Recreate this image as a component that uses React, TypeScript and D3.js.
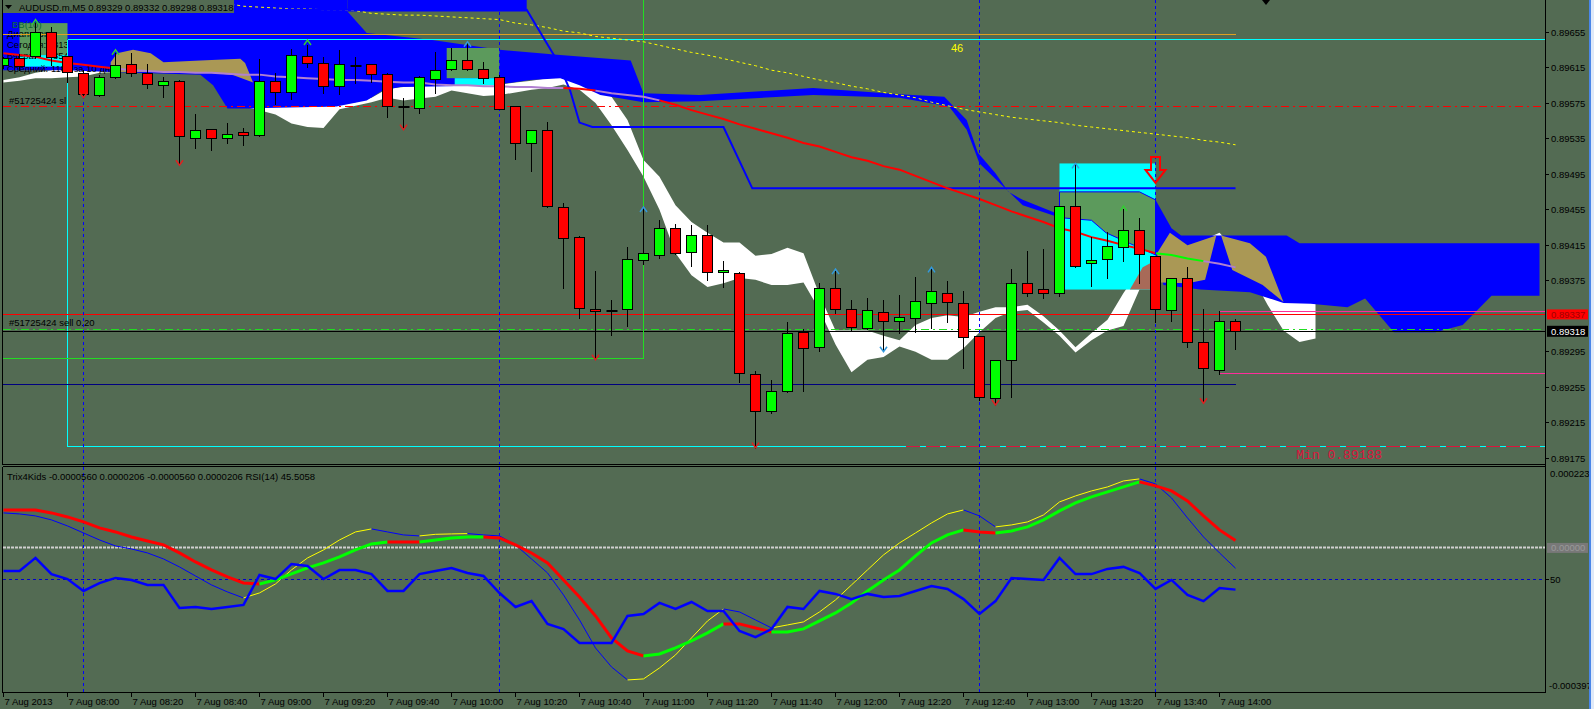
import React from "react";
import * as d3 from "d3";

// ---------------- DATA ----------------
const timeLabels = ["7 Aug 2013","7 Aug 08:00","7 Aug 08:20","7 Aug 08:40","7 Aug 09:00","7 Aug 09:20","7 Aug 09:40","7 Aug 10:00","7 Aug 10:20","7 Aug 10:40","7 Aug 11:00","7 Aug 11:20","7 Aug 11:40","7 Aug 12:00","7 Aug 12:20","7 Aug 12:40","7 Aug 13:00","7 Aug 13:20","7 Aug 13:40","7 Aug 14:00"];
const timeLabelBars = [0,4,8,12,16,20,24,28,32,36,40,44,48,52,56,60,64,68,72,76];
const priceTicks = [0.89655,0.89615,0.89575,0.89535,0.89495,0.89455,0.89415,0.89375,0.89295,0.89255,0.89215,0.89175];

const opens = [0.89617,0.89625,0.89627,0.89655,0.89627,0.89608,0.89584,0.89604,0.89618,0.89608,0.89595,0.89599,0.89535,0.89545,0.89535,0.89542,0.89539,0.89599,0.89587,0.89627,0.89619,0.89594,0.89617,0.89618,0.89607,0.89571,0.89569,0.89602,0.89613,0.89623,0.89613,0.89604,0.89571,0.89530,0.89544,0.89457,0.89424,0.89343,0.89341,0.89343,0.89398,0.89403,0.89434,0.89407,0.89426,0.89384,0.89383,0.89269,0.89228,0.89250,0.89317,0.89300,0.89366,0.89343,0.89321,0.89339,0.89329,0.89332,0.89349,0.89361,0.89349,0.89312,0.89242,0.89285,0.89372,0.89365,0.89361,0.89458,0.89394,0.89399,0.89412,0.89432,0.89402,0.89341,0.89377,0.89305,0.89274,0.89329];
const highs = [0.89627,0.89630,0.89665,0.89661,0.89628,0.89612,0.89607,0.89631,0.89631,0.89619,0.89604,0.89601,0.89563,0.89546,0.89553,0.89547,0.89625,0.89609,0.89636,0.89640,0.89627,0.89635,0.89627,0.89619,0.89609,0.89581,0.89605,0.89632,0.89637,0.89644,0.89621,0.89607,0.89572,0.89545,0.89554,0.89462,0.89425,0.89386,0.89353,0.89413,0.89458,0.89443,0.89439,0.89438,0.89438,0.89397,0.89385,0.89273,0.89263,0.89329,0.89321,0.89372,0.89386,0.89353,0.89355,0.89353,0.89359,0.89379,0.89390,0.89375,0.89363,0.89312,0.89285,0.89388,0.89408,0.89411,0.89458,0.89506,0.89424,0.89430,0.89456,0.89446,0.89402,0.89377,0.89390,0.89343,0.89341,0.89332];
const lows = [0.89614,0.89612,0.89626,0.89618,0.89599,0.89582,0.89583,0.89603,0.89605,0.89592,0.89582,0.89505,0.89524,0.89522,0.89530,0.89528,0.89538,0.89574,0.89580,0.89616,0.89586,0.89585,0.89598,0.89599,0.89559,0.89547,0.89564,0.89586,0.89612,0.89612,0.89598,0.89568,0.89512,0.89498,0.89458,0.89367,0.89333,0.89288,0.89314,0.89324,0.89394,0.89401,0.89405,0.89391,0.89376,0.89368,0.89261,0.89187,0.89226,0.89250,0.89251,0.89296,0.89339,0.89319,0.89321,0.89297,0.89316,0.89317,0.89322,0.89329,0.89277,0.89241,0.89235,0.89244,0.89358,0.89355,0.89358,0.89390,0.89369,0.89378,0.89397,0.89372,0.89329,0.89330,0.89300,0.89237,0.89270,0.89298];
const closes = [0.89625,0.89616,0.89655,0.89626,0.89609,0.89585,0.89604,0.89617,0.89608,0.89596,0.89599,0.89537,0.89544,0.89535,0.89540,0.89538,0.89599,0.89587,0.89628,0.89620,0.89594,0.89618,0.89617,0.89607,0.89571,0.89571,0.89604,0.89612,0.89623,0.89613,0.89603,0.89568,0.89530,0.89544,0.89458,0.89423,0.89344,0.89340,0.89341,0.89399,0.89406,0.89434,0.89406,0.89426,0.89384,0.89386,0.89270,0.89228,0.89250,0.89316,0.89299,0.89366,0.89343,0.89322,0.89341,0.89329,0.89333,0.89351,0.89363,0.89350,0.89311,0.89244,0.89285,0.89372,0.89361,0.89361,0.89458,0.89391,0.89398,0.89414,0.89432,0.89404,0.89342,0.89377,0.89305,0.89276,0.89329,0.89318];

// coloured moving average
const maLine = [0.89631,0.89629,0.89627,0.89623,0.89620,0.89618,0.89616,0.89614,0.89612,0.89611,0.89610,0.89610,0.89609,0.89609,0.89608,0.89607,0.89607,0.89605,0.89604,0.89603,0.89602,0.89601,0.89601,0.89600,0.89599,0.89598,0.89598,0.89596,0.89595,0.89595,0.89594,0.89594,0.89593,0.89593,0.89592,0.89592,0.89591,0.89589,0.89586,0.89584,0.89582,0.89578,0.89573,0.89567,0.89562,0.89557,0.89551,0.89546,0.89541,0.89536,0.89530,0.89526,0.89520,0.89514,0.89510,0.89504,0.89500,0.89493,0.89486,0.89479,0.89473,0.89467,0.89460,0.89453,0.89447,0.89441,0.89434,0.89430,0.89424,0.89420,0.89415,0.89411,0.89406,0.89404,0.89400,0.89397,0.89394,0.89390];
const maRuns = [[0,7,"down"],[7,35,"flat"],[35,37,"down"],[37,41,"flat"],[41,72,"down"],[72,75,"up"],[75,77,"flat"]];

// slow moving average (yellow dotted), starts at bar 12
const slowMaStart = 12;
const slowMa = [0.89691,0.89689,0.89687,0.89684,0.89683,0.89682,0.89681,0.89681,0.89680,0.89680,0.89679,0.89676,0.89675,0.89674,0.89674,0.89673,0.89672,0.89671,0.89670,0.89669,0.89665,0.89663,0.89660,0.89656,0.89654,0.89650,0.89648,0.89646,0.89644,0.89640,0.89636,0.89632,0.89629,0.89625,0.89621,0.89617,0.89612,0.89609,0.89605,0.89601,0.89598,0.89594,0.89591,0.89587,0.89584,0.89581,0.89576,0.89572,0.89568,0.89565,0.89562,0.89559,0.89557,0.89555,0.89553,0.89550,0.89548,0.89546,0.89544,0.89542,0.89540,0.89538,0.89536,0.89533,0.89531,0.89528];

// white band
const bandTop = [0.89601,0.89604,0.89609,0.89612,0.89616,0.89618,0.89620,0.89621,0.89612,0.89611,0.89610,0.89610,0.89609,0.89609,0.89608,0.89571,0.89571,0.89571,0.89571,0.89571,0.89571,0.89573,0.89576,0.89581,0.89591,0.89593,0.89594,0.89595,0.89596,0.89598,0.89595,0.89596,0.89598,0.89600,0.89603,0.89604,0.89601,0.89595,0.89582,0.89556,0.89511,0.89492,0.89460,0.89441,0.89429,0.89418,0.89418,0.89403,0.89405,0.89412,0.89406,0.89359,0.89319,0.89319,0.89319,0.89313,0.89308,0.89325,0.89333,0.89336,0.89334,0.89340,0.89345,0.89345,0.89348,0.89335,0.89319,0.89300,0.89316,0.89331,0.89361,0.89387,0.89404,0.89433,0.89415,0.89421,0.89429,0.89410,0.89393,0.89359,0.89351,0.89350,0.89350];
const bandBottom = [0.89598,0.89600,0.89603,0.89603,0.89604,0.89605,0.89609,0.89610,0.89612,0.89611,0.89610,0.89610,0.89609,0.89609,0.89608,0.89571,0.89567,0.89562,0.89552,0.89548,0.89547,0.89568,0.89572,0.89576,0.89581,0.89578,0.89580,0.89582,0.89589,0.89586,0.89583,0.89584,0.89587,0.89590,0.89592,0.89596,0.89590,0.89575,0.89550,0.89522,0.89492,0.89455,0.89406,0.89381,0.89368,0.89372,0.89378,0.89376,0.89370,0.89370,0.89373,0.89342,0.89303,0.89272,0.89286,0.89289,0.89301,0.89295,0.89286,0.89286,0.89299,0.89317,0.89333,0.89340,0.89342,0.89328,0.89313,0.89294,0.89308,0.89319,0.89324,0.89365,0.89396,0.89421,0.89410,0.89415,0.89421,0.89398,0.89381,0.89348,0.89319,0.89306,0.89310];

// cloud polygons [bar, price]
const cloudBlueLeft = [[-1,0.89700],[21.5,0.89700],[21.5,0.89678],[22.7,0.89654],[26.8,0.89646],[31.0,0.89635],[34.8,0.89629],[39.2,0.89623],[40.0,0.89586],[43.5,0.89584],[50.6,0.89592],[56.0,0.89585],[58.8,0.89582],[60.2,0.89556],[60.9,0.89519],[62.0,0.89496],[62.8,0.89475],[63.7,0.89466],[65.8,0.89451],[66.0,0.89446],[63.7,0.89460],[62.2,0.89486],[61.0,0.89507],[60.2,0.89545],[59.1,0.89571],[56.0,0.89581],[50.6,0.89584],[43.5,0.89577],[40.0,0.89576],[37.3,0.89584],[36.0,0.89595],[34.8,0.89603],[32.9,0.89601],[31.0,0.89596],[27.7,0.89594],[24.8,0.89593],[23.7,0.89589],[22.7,0.89578],[20.8,0.89571],[15.6,0.89569],[14.0,0.89569],[13.1,0.89595],[12.3,0.89607],[6.7,0.89610],[4.0,0.89612],[-1,0.89612]];
const cloudBlueStrip = [[21.5,0.89700],[32.7,0.89700],[32.7,0.89678],[21.5,0.89678]];
const cloudTanLeft = [[6.7,0.89621],[7.1,0.89631],[8.1,0.89635],[9.2,0.89631],[10.0,0.89621],[12.3,0.89623],[14.8,0.89625],[15.1,0.89620],[15.6,0.89598],[14.3,0.89607],[12.3,0.89610],[6.7,0.89610]];
const cloudBlueRight = [[72.0,0.89466],[73.0,0.89434],[73.6,0.89426],[80.2,0.89426],[81.0,0.89417],[96.0,0.89417],[96.0,0.89358],[93.0,0.89358],[91.2,0.89325],[89.5,0.89317],[86.9,0.89317],[85.1,0.89355],[84.0,0.89345],[81.7,0.89349],[80.0,0.89350],[77.9,0.89362],[74.8,0.89365],[72.5,0.89370],[72.0,0.89399]];
const cloudTanRight1 = [[72.1,0.89406],[72.9,0.89429],[74.0,0.89415],[75.8,0.89426],[75.1,0.89376],[74.0,0.89372],[72.3,0.89373]];
const cloudTanRight2 = [[76.1,0.89426],[77.9,0.89417],[78.9,0.89402],[80.0,0.89351],[78.7,0.89370],[76.8,0.89387]];

// range boxes [barFrom, barTo, priceTop, priceBottom]
const boxGreen = [[1.0,4.0,0.89665,0.89629],[27.7,31.0,0.89637,0.89603]];
const boxCyan = [[1.0,4.0,0.89629,0.89616],[28.2,31.0,0.89603,0.89595],[66.0,72.0,0.89507,0.89365]];
const box3Green = [[66.0,0.89475],[71.0,0.89475],[72.0,0.89466],[72.0,0.89404],[68.9,0.89429],[68.0,0.89443],[66.0,0.89446]];
const box3Brown = [[70.4,0.89365],[71.2,0.89390],[71.7,0.89395],[72.0,0.89395],[72.0,0.89365]];

const stepLine = [[-1,0.89680],[32.7,0.89680],[34.6,0.89623],[35.4,0.89590],[36.0,0.89553],[36.8,0.89548],[45.0,0.89548],[46.8,0.89479],[77.0,0.89479]];

const fractalUp = [[2,0.89669],[7,0.89635],[19,0.89646],[29,0.89644],[40,0.89458],[52,0.89388],[58,0.89390],[67,0.89507],[70,0.89459]];
const fractalUpKind = ["g","g","g","b","b","b","b","b","g"];
const fractalDown = [[5,0.89581],[11,0.89505],[25,0.89545],[37,0.89286],[47,0.89187],[55,0.89295],[62,0.89235],[75,0.89237]];
const fractalDownKind = ["r","r","r","r","r","b","r","r"];

const sellSignal = [72, 0.89485];

// levels
const orangeLevel = 0.89652;
const cyanTopLevel = 0.89646;
const minLevel = 0.89188;
const slLevel = 0.89571;
const redLevel = 0.89337;
const orderLevel = 0.89320;
const bidLevel = 0.89318;
const navyLevel = 0.89258;
const pinkHigh = 0.89340;
const pinkLow = 0.89270;
const greenBoxBottom = 0.89287;
const separatorBars = [5, 31, 61, 72];

// sub window
const trixMain = [104.7,104.7,104.7,96.5,85.4,71.7,55.1,44.1,30.3,19.3,8.3,-13.8,-38.6,-60.6,-79.9,-96.5,-99.2,-88.2,-71.7,-55.1,-41.3,-24.8,-5.5,11.0,16.5,16.5,16.5,22.0,27.6,30.3,30.3,27.6,8.3,-13.8,-41.3,-88.2,-135.0,-187.4,-248.0,-283.8,-297.6,-292.1,-275.6,-256.3,-234.2,-209.4,-209.4,-220.5,-231.5,-231.5,-223.2,-201.2,-179.1,-151.6,-118.5,-88.2,-60.6,-22.0,13.8,35.8,49.6,44.1,41.3,46.8,57.9,77.2,102.0,124.0,140.5,154.3,168.1,181.9,170.9,157.1,129.5,88.2,49.6,20.6].map(v => v * 1e-6);
const trixSignal = [96.5,93.7,88.2,77.2,60.6,41.3,22.0,5.5,-2.8,-13.8,-30.3,-52.4,-77.2,-102.0,-121.3,-137.8,-124.0,-99.2,-60.6,-27.6,-5.5,22.0,44.1,52.4,44.1,35.8,33.1,37.5,38.6,39.5,35.8,33.1,8.3,-30.3,-68.9,-129.5,-198.4,-275.6,-327.9,-363.8,-361.0,-330.7,-294.9,-248.0,-201.2,-168.1,-176.4,-198.4,-220.5,-212.2,-203.9,-176.4,-143.3,-102.0,-60.6,-19.3,13.8,41.3,68.9,93.7,104.7,88.2,57.9,63.4,71.7,90.9,126.8,143.3,157.1,168.1,184.6,190.2,176.4,137.8,82.7,30.3,-13.8,-56.0].map(v => v * 1e-6);
const trixRuns = [[0,16,"down"],[16,24,"up"],[24,26,"down"],[26,30,"up"],[30,40,"down"],[40,45,"up"],[45,48,"down"],[48,60,"up"],[60,62,"down"],[62,71,"up"],[71,77,"down"]];
const rsi = [53.8,53.8,59.6,52.4,50.2,44.9,48.4,50.7,49.8,47.6,47.6,37.3,37.8,36.9,37.8,38.7,52.0,50.2,56.9,56.0,50.2,54.2,54.2,52.4,44.9,44.9,52.4,53.8,55.1,52.9,51.6,44.0,37.8,40.4,30.2,28.0,21.8,21.8,21.8,33.8,34.7,39.6,36.9,40.0,36.0,36.0,27.1,24.4,28.0,37.8,36.9,44.9,43.6,41.3,43.6,42.2,42.7,44.9,47.1,45.8,41.3,34.7,40.4,50.7,50.2,49.8,59.6,52.4,52.4,54.7,55.6,52.9,45.8,49.8,43.1,40.4,46.2,45.5];
const rsiLevel = 50;
const subLabels = ["0.000223", "0.00000", "50", "-0.000397"];

// ---------------- LAYOUT ----------------
const BG = "#536b53";
const FONT = "'Liberation Sans', Arial, sans-serif";
const AXIS_X = 1545.5;

const X = d3.scaleLinear().domain([0, 96]).range([3.5, 1539.5]);
const Y = d3.scaleLinear().domain([0.89175, 0.89655]).range([458.3, 32]);
const YT = d3.scaleLinear().domain([-0.000397, 0.000223]).range([692, 467]);
const YR = d3.scaleLinear().domain([0, 100]).range([692, 467]);

const crisp = (v: number) => Math.round(v - 0.5) + 0.5;

const polyPath = d3.line<number[]>().x(d => X(d[0])).y(d => Y(d[1])).curve(d3.curveLinearClosed);
const openPath = d3.line<number[]>().x(d => X(d[0])).y(d => Y(d[1]));

const maColor: Record<string, string> = { down: "#ff0000", up: "#00ff00", flat: "#b080d0" };
const trixColor: Record<string, string> = { down: "#ff0000", up: "#00ff00" };
const fracColor: Record<string, string> = { g: "#33cc33", b: "#3399dd", r: "#e02020" };

function HLine({ p, x1 = 3, x2 = 1545, stroke, dash, w = 1 }: any) {
  const y = crisp(Y(p));
  return <line x1={x1} x2={x2} y1={y} y2={y} stroke={stroke} strokeWidth={w} strokeDasharray={dash} shapeRendering="crispEdges" />;
}

export default function App() {
  const bandArea = d3.area<number>()
    .x((_, i) => X(i))
    .y0((_, i) => Y(bandBottom[i]))
    .y1(d => Y(d));

  const slowPath = d3.line<number>().x((_, i) => X(i + slowMaStart)).y(d => Y(d))(slowMa);

  const maSegs = maRuns.map(([s, e, st]: any, k) => {
    const pts = maLine.slice(s, e + 1).map((v, j) => [s + j, v]);
    return <path key={k} d={openPath(pts) as string} fill="none" stroke={maColor[st]} strokeWidth={2} />;
  });

  const trixLine = d3.line<number[]>().x(d => X(d[0])).y(d => YT(d[1]));
  const trixSegs = trixRuns.map(([s, e, st]: any, k) => {
    const pts = trixMain.slice(s, e + 1).map((v, j) => [s + j, v]);
    return <path key={k} d={trixLine(pts) as string} fill="none" stroke={trixColor[st]} strokeWidth={3} />;
  });
  const sigSegs = trixSignal.slice(1).map((v, j) => {
    const prev = trixSignal[j];
    const col = v > prev ? "#ffff00" : "#0000ff";
    return <line key={j} x1={X(j)} y1={YT(prev)} x2={X(j + 1)} y2={YT(v)} stroke={col} strokeWidth={1} />;
  });
  const rsiPath = d3.line<number>().x((_, i) => X(i)).y(d => YR(d))(rsi);

  const rectFrom = (b: number[], fill: string, k: number) => {
    const x0 = X(b[0]), x1 = X(b[1]), y0 = Y(b[2]), y1 = Y(b[3]);
    return <rect key={k} x={x0} y={y0} width={x1 - x0} height={y1 - y0} fill={fill} />;
  };

  const candles = opens.map((o, i) => {
    const c = closes[i], h = highs[i], l = lows[i];
    const cx = crisp(X(i));
    const wick = <line x1={cx} x2={cx} y1={Math.round(Y(h))} y2={Math.round(Y(l)) + 1} stroke="#000" strokeWidth={1} />;
    if (o === c) {
      const y = Math.round(Y(o));
      return <g key={i}>{wick}<line x1={cx - 5} x2={cx + 6} y1={y} y2={y} stroke="#000" strokeWidth={2} /></g>;
    }
    const top = crisp(Y(Math.max(o, c)));
    const bot = crisp(Y(Math.min(o, c)));
    return (
      <g key={i}>
        {wick}
        <rect x={cx - 5} y={top} width={10} height={Math.max(bot - top, 1)} fill={c > o ? "#00ff00" : "#ff0000"} stroke="#000" strokeWidth={1} />
      </g>
    );
  });

  const fracs = [
    ...fractalUp.map((f, k) => {
      const cx = X(f[0]), ty = Y(f[1]);
      return <path key={"u" + k} d={`M${cx - 3.5},${ty + 5} L${cx},${ty} L${cx + 3.5},${ty + 5}`} fill="none" stroke={fracColor[fractalUpKind[k]]} strokeWidth={1.5} />;
    }),
    ...fractalDown.map((f, k) => {
      const cx = X(f[0]), ty = Y(f[1]);
      return <path key={"d" + k} d={`M${cx - 3.5},${ty - 5} L${cx},${ty} L${cx + 3.5},${ty - 5}`} fill="none" stroke={fracColor[fractalDownKind[k]]} strokeWidth={1.5} />;
    }),
  ];

  const sx = X(sellSignal[0]), sy = Y(sellSignal[1]);
  const sellArrow = `M${sx - 4.5},${sy - 26} L${sx + 4.5},${sy - 26} L${sx + 4.5},${sy - 13} L${sx + 10},${sy - 13} L${sx},${sy} L${sx - 10},${sy - 13} L${sx - 4.5},${sy - 13} Z`;

  const minY = crisp(Y(minLevel));
  const dashX0 = X(56);

  return (
    <svg width={1594} height={709} style={{ position: "absolute", left: 0, top: 0, display: "block" }} fontFamily={FONT}>
      <defs>
        <clipPath id="mainClip"><rect x={3} y={0} width={1542} height={464} /></clipPath>
        <clipPath id="subClip"><rect x={3} y={467} width={1542} height={225} /></clipPath>
      </defs>
      <rect x={0} y={0} width={1594} height={709} fill={BG} />

      {/* ---------- MAIN PANEL ---------- */}
      <g clipPath="url(#mainClip)">
        {/* white band */}
        <path d={bandArea(bandTop) as string} fill="#ffffff" />
        {/* left cloud */}
        <path d={polyPath(cloudBlueLeft) as string} fill="#0000ff" />
        <path d={polyPath(cloudBlueStrip) as string} fill="#0000ff" />
        <path d={polyPath(cloudTanLeft) as string} fill="#aa9855" />
        {/* range boxes */}
        {boxGreen.map((b, k) => rectFrom(b, "#5c9a5c", k))}
        {boxCyan.map((b, k) => rectFrom(b, "#00ffff", 10 + k))}
        <path d={polyPath(box3Green) as string} fill="#5c9a5c" stroke="#0000ff" strokeWidth={1} />
        <path d={polyPath(box3Brown) as string} fill="#a86a58" />
        {/* right cloud */}
        <path d={polyPath(cloudBlueRight) as string} fill="#0000ff" />
        <path d={polyPath(cloudTanRight1) as string} fill="#aa9855" />
        <path d={polyPath(cloudTanRight2) as string} fill="#aa9855" />

        {/* legend block text (under candles) */}
        <text x={12} y={28} fontSize={9.5} fill="#0b6b33">BB(10)</text>
        <text x={7} y={36.5} fontSize={9.5} fill="#000">Диапазон:</text>
        <text x={7} y={48} fontSize={9.5} fill="#000">Сегодня:</text>
        <text x={53} y={48} fontSize={9.5} fill="#000">813</text>
        <text x={7} y={59} fontSize={9.5} fill="#000">Вчера:</text>
        <text x={53} y={59} fontSize={9.5} fill="#000">854</text>
        <text x={7} y={72} fontSize={9.5} fill="#000">Средний: 1182 за 10 дней</text>

        {/* levels */}
        <HLine p={orangeLevel} x2={X(77)} stroke="#e0a020" />
        <HLine p={cyanTopLevel} x1={X(4)} stroke="#00ffff" />
        <line x1={crisp(X(4))} x2={crisp(X(4))} y1={Y(cyanTopLevel)} y2={minY} stroke="#00ffff" strokeWidth={1} shapeRendering="crispEdges" />
        <line x1={X(4)} x2={dashX0} y1={minY} y2={minY} stroke="#00ffff" strokeWidth={1} shapeRendering="crispEdges" />
        <line x1={dashX0} x2={1545} y1={minY} y2={minY} stroke="#dc143c" strokeWidth={1} shapeRendering="crispEdges" />
        <line x1={dashX0} x2={1545} y1={minY} y2={minY} stroke="#00ffff" strokeWidth={1} strokeDasharray="6,14" shapeRendering="crispEdges" />
        <HLine p={slLevel} stroke="#ff0000" dash="8,4,2,4" />
        <HLine p={redLevel} stroke="#ff0000" />
        <HLine p={orderLevel} stroke="#22dd22" dash="8,4,2,4" />
        <HLine p={bidLevel} stroke="#000000" />
        <HLine p={navyLevel} x2={X(77)} stroke="#000080" />
        <HLine p={pinkHigh} x1={X(76)} stroke="#ff2d9b" />
        <HLine p={pinkLow} x1={X(76)} stroke="#ff2d9b" />
        {/* green box */}
        <line x1={crisp(X(40))} x2={crisp(X(40))} y1={0} y2={crisp(Y(greenBoxBottom))} stroke="#22dd22" strokeWidth={1} shapeRendering="crispEdges" />
        <HLine p={greenBoxBottom} x2={X(40)} stroke="#22dd22" />

        {/* yellow dotted slow ma */}
        <path d={slowPath as string} fill="none" stroke="#ffff00" strokeWidth={1} strokeDasharray="3,3" />
        {/* blue step line */}
        <path d={openPath(stepLine) as string} fill="none" stroke="#0000ff" strokeWidth={2} />
        {/* coloured ma */}
        {maSegs}

        {/* separators */}
        {separatorBars.map(b => (
          <line key={b} x1={X(b)} x2={X(b)} y1={0} y2={464} stroke="#0000ff" strokeWidth={1} strokeDasharray="3,3" shapeRendering="crispEdges" />
        ))}

        {/* order labels */}
        <text x={9} y={104} fontSize={9.5} fill="#000">#51725424 sl</text>
        <text x={9} y={326} fontSize={9.5} fill="#000">#51725424 sell 0.20</text>

        {candles}
        {fracs}
        <path d={sellArrow} fill="none" stroke="#ff0000" strokeWidth={2} />

        <text x={X(59.6)} y={Y(0.89637) + 4} fontSize={11} fill="#ffff00" textAnchor="middle">46</text>
        <text x={X(80.8)} y={459} fontSize={13} fill="#dc143c" fontFamily="'Liberation Mono', 'DejaVu Sans Mono', monospace">Min 0.89188</text>

        {/* top legend box */}
        <rect x={3} y={0} width={231} height={13} fill={BG} />
        <path d="M5,5 L12,5 L8.5,9 Z" fill="#000" />
        <text x={19} y={10.5} fontSize={9.5} fill="#000">AUDUSD.m,M5  0.89329 0.89332 0.89298 0.89318</text>
        <path d="M1262,0 L1270,0 L1266,5 Z" fill="#000" />
      </g>

      {/* ---------- SUB PANEL ---------- */}
      <g clipPath="url(#subClip)">
        <line x1={3} x2={1545} y1={crisp(YT(0))} y2={crisp(YT(0))} stroke="#cfcfcf" strokeWidth={2} strokeDasharray="3,1" />
        <line x1={3} x2={1545} y1={crisp(YR(rsiLevel))} y2={crisp(YR(rsiLevel))} stroke="#0000cc" strokeWidth={1} strokeDasharray="3,3" shapeRendering="crispEdges" />
        {separatorBars.map(b => (
          <line key={b} x1={X(b)} x2={X(b)} y1={467} y2={692} stroke="#0000ff" strokeWidth={1} strokeDasharray="3,3" shapeRendering="crispEdges" />
        ))}
        {sigSegs}
        {trixSegs}
        <path d={rsiPath as string} fill="none" stroke="#0000ff" strokeWidth={2.5} />
        <text x={7} y={479.5} fontSize={9.5} fill="#000">Trix4Kids -0.0000560 0.0000206 -0.0000560 0.0000206  RSI(14) 45.5058</text>
      </g>

      {/* ---------- FRAME & AXES ---------- */}
      <line x1={2.5} x2={2.5} y1={0} y2={464.5} stroke="#000" shapeRendering="crispEdges" />
      <line x1={2.5} x2={2.5} y1={466.5} y2={692.5} stroke="#000" shapeRendering="crispEdges" />
      <line x1={2.5} x2={AXIS_X} y1={464.5} y2={464.5} stroke="#000" shapeRendering="crispEdges" />
      <line x1={2.5} x2={AXIS_X} y1={466.5} y2={466.5} stroke="#000" shapeRendering="crispEdges" />
      <line x1={2.5} x2={AXIS_X} y1={692.5} y2={692.5} stroke="#000" shapeRendering="crispEdges" />
      <line x1={AXIS_X} x2={AXIS_X} y1={0} y2={692.5} stroke="#000" shapeRendering="crispEdges" />

      {priceTicks.map(p => (
        <g key={p}>
          <line x1={AXIS_X} x2={1549} y1={crisp(Y(p))} y2={crisp(Y(p))} stroke="#000" shapeRendering="crispEdges" />
          <text x={1551} y={Y(p) + 3.5} fontSize={9.5} fill="#000">{p.toFixed(5)}</text>
        </g>
      ))}
      <rect x={1547} y={Y(redLevel) - 5} width={41} height={10} fill="#ff0000" />
      <text x={1551} y={Y(redLevel) + 3.5} fontSize={9.5} fill="#a00000">{redLevel.toFixed(5)}</text>
      <rect x={1547} y={Y(bidLevel) - 5.5} width={41} height={11} fill="#000" />
      <text x={1551} y={Y(bidLevel) + 3.5} fontSize={9.5} fill="#fff">{bidLevel.toFixed(5)}</text>

      <text x={1550} y={477} fontSize={9.5} fill="#000">{subLabels[0]}</text>
      <rect x={1547} y={YT(0) - 5} width={41} height={10} fill="#787878" />
      <text x={1551} y={YT(0) + 3.5} fontSize={9.5} fill="#999">{subLabels[1]}</text>
      <line x1={AXIS_X} x2={1549} y1={crisp(YR(rsiLevel))} y2={crisp(YR(rsiLevel))} stroke="#000" shapeRendering="crispEdges" />
      <text x={1550} y={YR(rsiLevel) + 3.5} fontSize={9.5} fill="#000">{subLabels[2]}</text>
      <text x={1549} y={689} fontSize={9.5} fill="#000">{subLabels[3]}</text>

      {timeLabels.map((t, k) => {
        const x = crisp(X(timeLabelBars[k]));
        return (
          <g key={t}>
            <line x1={x} x2={x} y1={692} y2={697} stroke="#000" shapeRendering="crispEdges" />
            <text x={x + 1} y={704.5} fontSize={9.5} fill="#000">{t}</text>
          </g>
        );
      })}

      {/* window edge */}
      <rect x={1589} y={0} width={2} height={709} fill="#4a86e8" />
      <rect x={1591} y={0} width={3} height={709} fill="#dfe9f8" />
    </svg>
  );
}
